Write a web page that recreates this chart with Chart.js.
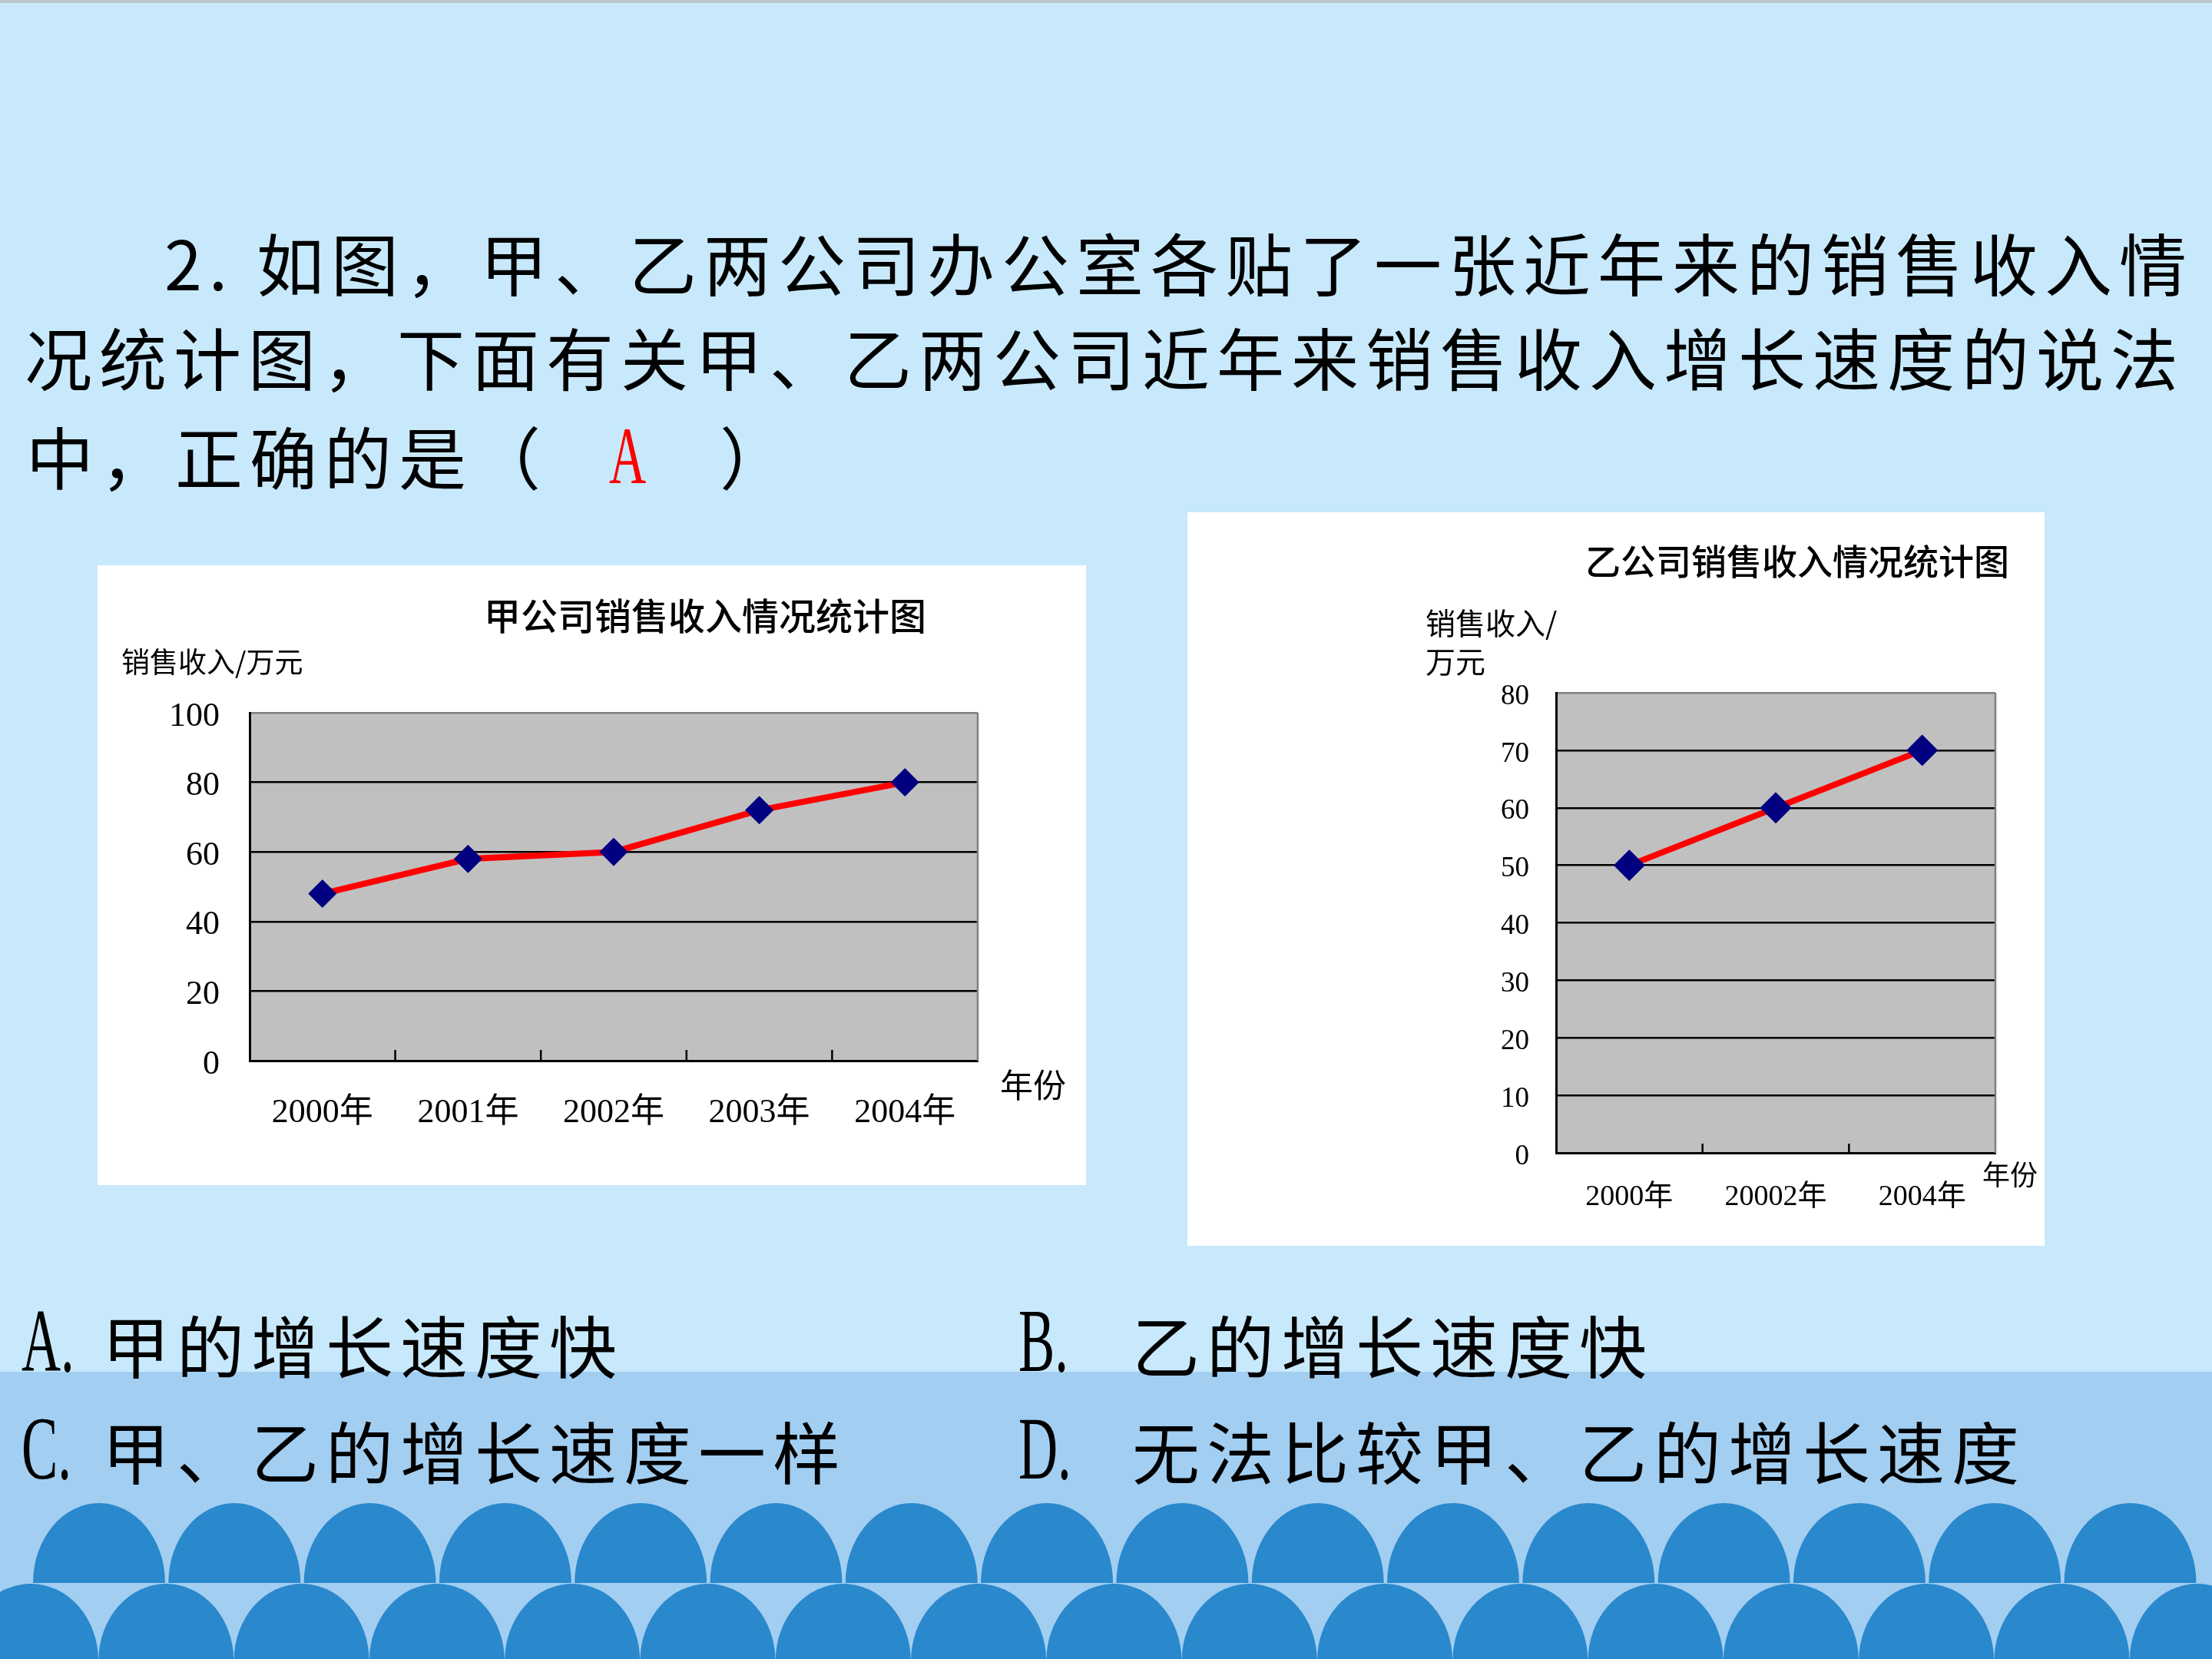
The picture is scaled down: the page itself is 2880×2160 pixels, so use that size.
<!DOCTYPE html>
<html><head><meta charset="utf-8">
<script src="https://cdn.jsdelivr.net/npm/chart.js@4.4.1/dist/chart.umd.min.js"></script>
<style>
html,body{margin:0;padding:0;}
body{width:2880px;height:2160px;position:relative;overflow:hidden;background:#C8E9FB;font-family:'Noto Sans CJK SC',sans-serif;color:#000;}
#topbar{position:absolute;left:0;top:0;width:2880px;height:4px;background:#BCC5CD;}
#band{position:absolute;left:0;top:1786px;width:2880px;height:374px;background:#A2CEF1;}
#waves{position:absolute;left:0;top:0;}
.q{position:absolute;font-size:88px;letter-spacing:9px;line-height:1;white-space:nowrap;}
.lat{position:absolute;font-family:'Liberation Serif',serif;line-height:1;white-space:nowrap;transform-origin:0 0;}
.box{position:absolute;background:#fff;}
.box canvas{position:absolute;left:0;top:0;}
</style></head>
<body>
<div id="topbar"></div>
<div id="band"></div>
<svg id="waves" width="2880" height="2160"></svg>

<div class="q" style="left:214px;top:296px;">2.&nbsp;如图，甲、乙两公司办公室各贴了一张近年来的销售收入情</div>
<div class="q" style="left:32px;top:419px;">况统计图，下面有关甲、乙两公司近年来销售收入增长速度的说法</div>
<div class="q" style="left:34px;top:548px;">中，正确的是（</div>
<div class="lat" style="left:793px;top:541px;font-size:106px;color:#FF0000;transform:scaleX(0.63);">A</div>
<div class="q" style="left:937px;top:548px;">）</div>

<div class="lat" style="left:28px;top:1688px;font-size:116px;transform:scaleX(0.61);">A.</div>
<div class="q" style="left:133px;top:1705px;">甲的增长速度快</div>
<div class="lat" style="left:1326px;top:1688px;font-size:116px;transform:scaleX(0.61);">B.</div>
<div class="q" style="left:1474px;top:1705px;">乙的增长速度快</div>
<div class="lat" style="left:28px;top:1828px;font-size:116px;transform:scaleX(0.61);">C.</div>
<div class="q" style="left:133px;top:1843px;">甲、乙的增长速度一样</div>
<div class="lat" style="left:1326px;top:1828px;font-size:116px;transform:scaleX(0.61);">D.</div>
<div class="q" style="left:1474px;top:1843px;">无法比较甲、乙的增长速度</div>

<div class="box" style="left:127px;top:736px;width:1287px;height:807px;"><canvas id="c1" width="1287" height="807"></canvas></div>
<div class="box" style="left:1546px;top:667px;width:1116px;height:955px;"><canvas id="c2" width="1116" height="955"></canvas></div>

<script>
// ---- data ----
const yearsA = ['2000年', '2001年', '2002年', '2003年', '2004年'];
const salesA = [48, 58, 60, 72, 80];
const yTicksA = [0, 20, 40, 60, 80, 100];

const yearsB = ['2000年', '20002年', '2004年'];
const salesB = [50, 60, 70];
const yTicksB = [0, 10, 20, 30, 40, 50, 60, 70, 80];

const titleA = '甲公司销售收入情况统计图';
const titleB = '乙公司销售收入情况统计图';
const unitA = ['销售收入/万元'];
const unitB = ['销售收入/', '万元'];
const xNameText = '年份';

// ---- decorative waves ----
(function(){
  const svg = document.getElementById('waves');
  const ns = 'http://www.w3.org/2000/svg';
  function row(start, period, from, to, rx, ry, yTop, clipBottom, color){
    let d = '';
    for (let i = from; i <= to; i++) {
      const cx = start + period * i;
      const cy = yTop + ry;
      d += `M${cx-rx},${cy} A${rx},${ry} 0 0 1 ${cx+rx},${cy} L${cx+rx},${clipBottom} L${cx-rx},${clipBottom} Z `;
    }
    const p = document.createElementNS(ns, 'path');
    p.setAttribute('d', d);
    p.setAttribute('fill', color);
    return p;
  }
  const clip = document.createElementNS(ns, 'clipPath');
  clip.setAttribute('id', 'r1');
  const rect = document.createElementNS(ns, 'rect');
  rect.setAttribute('x', 0); rect.setAttribute('y', 0);
  rect.setAttribute('width', 2880); rect.setAttribute('height', 2061);
  clip.appendChild(rect);
  svg.appendChild(clip);
  const r1 = row(129, 176.3, 0, 15, 86, 104, 1957, 2061, '#2A88CC');
  r1.setAttribute('clip-path', 'url(#r1)');
  svg.appendChild(r1);
  svg.appendChild(row(40, 176.3, -1, 17, 88, 100, 2062, 2200, '#2A88CC'));
})();

// ---- chart helpers ----
const serif = "'Liberation Serif','Noto Sans CJK SC',serif";
const sans = "'Noto Sans CJK SC',sans-serif";

const decoPlugin = {
  id: 'deco',
  beforeDraw(chart, args, o) {
    const {ctx, chartArea: a} = chart;
    ctx.save();
    ctx.fillStyle = '#C0C0C0';
    ctx.fillRect(a.left, a.top, a.right - a.left, a.bottom - a.top);
    ctx.restore();
  },
  beforeDatasetsDraw(chart, args, o) {
    const {ctx, chartArea: a} = chart;
    const xs = chart.scales.x;
    ctx.save();
    ctx.strokeStyle = '#808080';
    ctx.lineWidth = 2.5;
    ctx.beginPath();
    ctx.moveTo(a.right, a.top); ctx.lineTo(a.right, a.bottom);
    ctx.stroke();
    ctx.strokeStyle = '#000';
    ctx.lineWidth = 2.5;
    ctx.beginPath();
    const n = chart.data.labels.length;
    for (let i = 1; i < n; i++) {
      const bx = (xs.getPixelForValue(i - 1) + xs.getPixelForValue(i)) / 2;
      ctx.moveTo(bx, a.bottom); ctx.lineTo(bx, a.bottom - o.tickLen);
    }
    ctx.stroke();
    ctx.restore();
  },
  afterDraw(chart, args, o) {
    const {ctx} = chart;
    ctx.save();
    ctx.fillStyle = '#000';
    ctx.textBaseline = 'middle';
    ctx.textAlign = 'center';
    ctx.font = `500 ${o.titleSize}px ${sans}`;
    ctx.fillText(o.title, o.titleX, o.titleY);
    ctx.textAlign = 'left';
    ctx.font = `${o.unitSize}px ${sans}`;
    o.unit.forEach((t, i) => ctx.fillText(t, o.unitX, o.unitY + i * o.unitGap));
    ctx.textAlign = 'center';
    ctx.font = `${o.xNameSize}px ${sans}`;
    ctx.fillText(xNameText, o.xNameX, o.xNameY);
    ctx.restore();
  }
};

function makeChart(id, labels, values, ticks, cfg) {
  const yMax = ticks[ticks.length - 1];
  return new Chart(document.getElementById(id), {
    type: 'line',
    data: {
      labels: labels,
      datasets: [{
        data: values,
        borderColor: '#FF0000',
        borderWidth: cfg.lineW,
        tension: 0,
        pointStyle: 'rectRot',
        pointRadius: cfg.pointR,
        pointBackgroundColor: '#000080',
        pointBorderColor: '#000080',
        pointBorderWidth: 1,
        clip: false
      }]
    },
    options: {
      responsive: false,
      devicePixelRatio: 1,
      animation: false,
      layout: {padding: {left: 0, top: cfg.top, right: cfg.right, bottom: 0}},
      plugins: {
        legend: {display: false},
        title: {display: false},
        tooltip: {enabled: false},
        deco: cfg.deco
      },
      scales: {
        x: {
          type: 'category',
          offset: true,
          grid: {display: false, drawTicks: false},
          border: {display: true, color: '#000', width: 3},
          ticks: {color: '#000', font: {family: serif, size: cfg.xFont}, padding: cfg.xPad, maxRotation: 0, autoSkip: false},
          afterFit(s) { s.height = cfg.bottom; }
        },
        y: {
          min: ticks[0],
          max: yMax,
          grid: {
            color: c => (c.tick && c.tick.value === yMax) ? '#808080' : '#000',
            lineWidth: 2.5,
            drawTicks: false
          },
          border: {display: true, color: '#000', width: 3},
          ticks: {stepSize: ticks[1] - ticks[0], color: '#000', font: {family: serif, size: cfg.yFont}, padding: cfg.yPad, labelOffset: 5},
          afterFit(s) { s.width = cfg.left; }
        }
      }
    },
    plugins: [decoPlugin]
  });
}

makeChart('c1', yearsA, salesA, yTicksA, {
  lineW: 8, pointR: 18, top: 192, right: 141, left: 198, bottom: 162,
  xFont: 44, xPad: 42, yFont: 44, yPad: 39,
  deco: {tickLen: 14, title: titleA, titleSize: 48, titleX: 791, titleY: 66,
         unit: unitA, unitSize: 37, unitX: 31, unitY: 126, unitGap: 50,
         xNameSize: 43, xNameX: 1218, xNameY: 677}
});

makeChart('c2', yearsB, salesB, yTicksB, {
  lineW: 8, pointR: 20, top: 235, right: 64, left: 480, bottom: 121,
  xFont: 38, xPad: 35, yFont: 37, yPad: 35,
  deco: {tickLen: 12, title: titleB, titleSize: 46, titleX: 794, titleY: 64,
         unit: unitB, unitSize: 39, unitX: 310, unitY: 144, unitGap: 50,
         xNameSize: 36, xNameX: 1071, xNameY: 862}
});
</script>
</body></html>
